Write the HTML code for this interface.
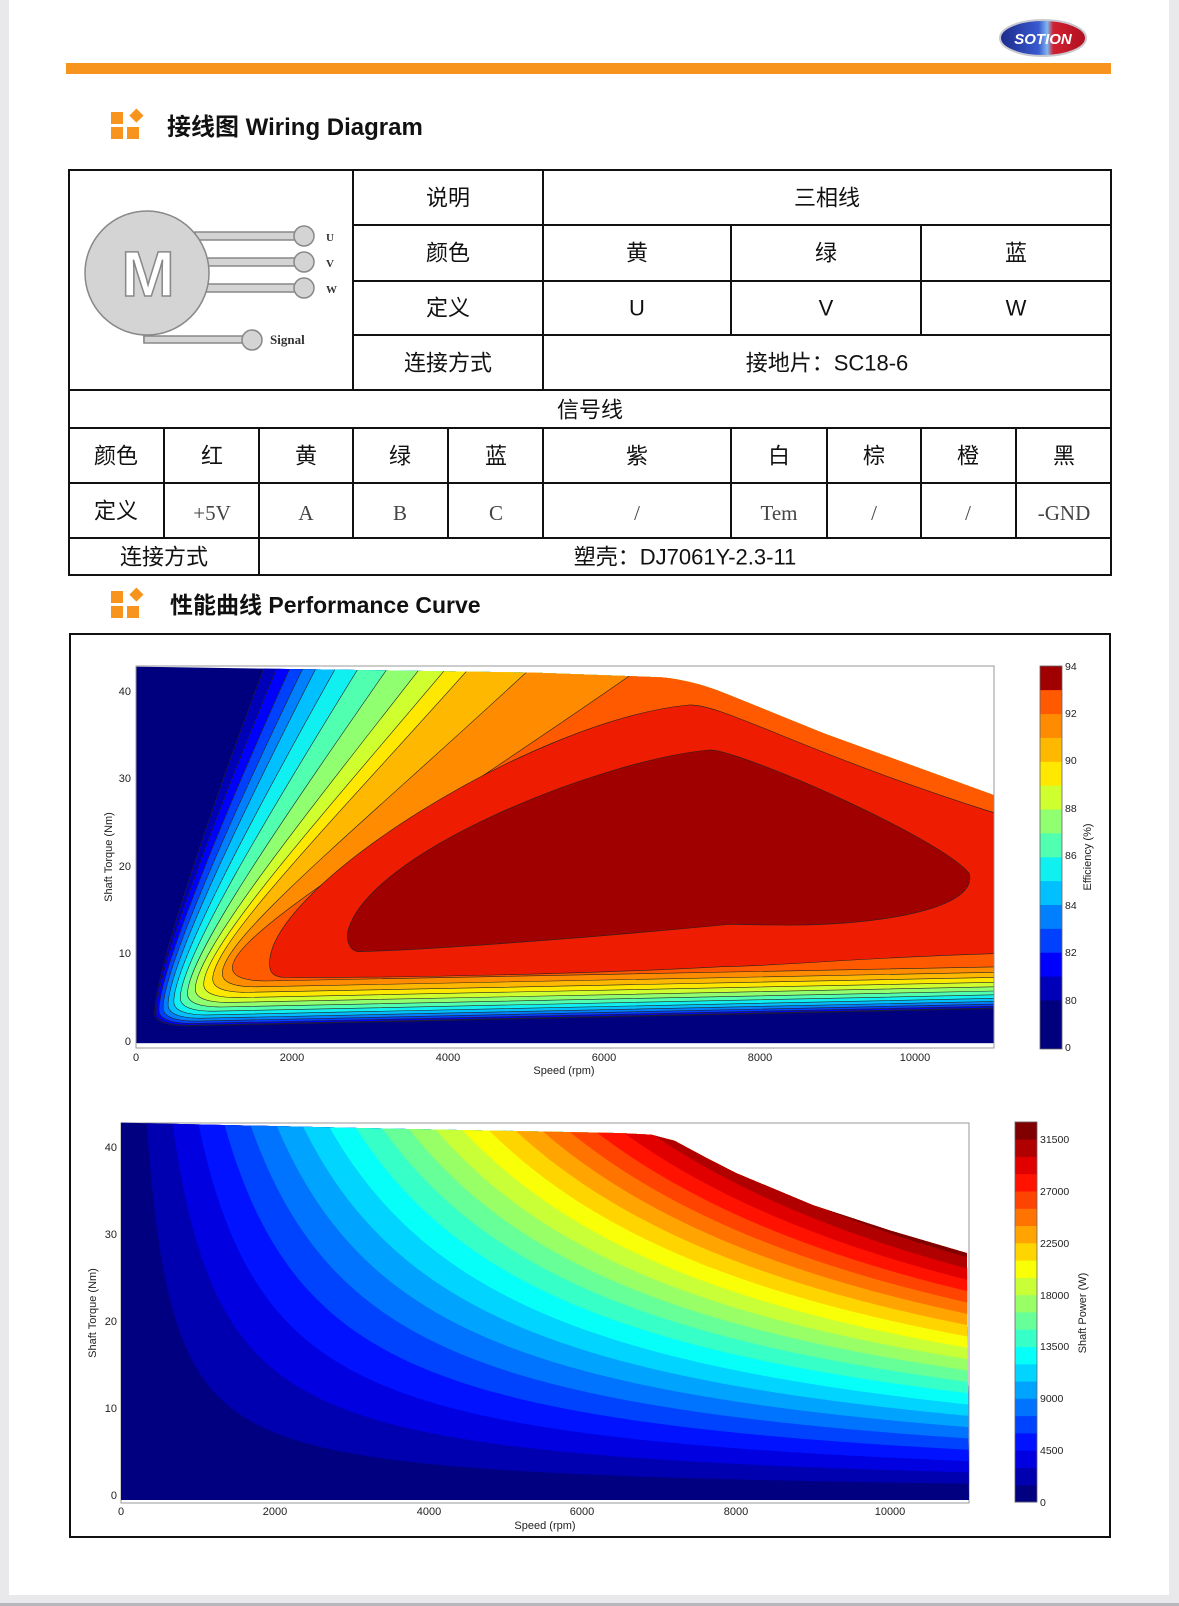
<!DOCTYPE html>
<html><head><meta charset="utf-8">
<style>
html,body{margin:0;padding:0;background:#e9e9ec;}
body{width:1179px;height:1606px;overflow:hidden;position:relative;}
svg{position:absolute;left:0;top:0;}
text{font-family:"Liberation Sans","Noto Sans CJK SC",sans-serif;}
</style></head>
<body>
<svg id="pg" width="1179" height="1606" viewBox="0 0 1179 1606" xmlns="http://www.w3.org/2000/svg">
<defs>
<linearGradient id="lg" x1="0" x2="1" y1="0" y2="0">
<stop offset="0" stop-color="#1a2a8a"/><stop offset="0.45" stop-color="#3a5ad0"/><stop offset="0.55" stop-color="#7fb8f0"/><stop offset="0.62" stop-color="#d02030"/><stop offset="1" stop-color="#b01020"/>
</linearGradient>
<clipPath id="env1"><path d="M113,140 L700,158 L890,172 C930,180 960,200 990,225 L1130,340 L1381,525 L1381,1270 L113,1270 Z"/></clipPath>
<clipPath id="env2"><path id="env2p" d=""/></clipPath>
</defs>
<rect x="9" y="0" width="1160" height="1595" fill="#ffffff"/>
<rect x="0" y="1603" width="1179" height="3" fill="#b8b8bc"/>
<ellipse cx="1043" cy="38" rx="43" ry="18" fill="url(#lg)" stroke="#c8c8d0" stroke-width="2"/>
<text x="1043" y="44" font-size="15" font-weight="bold" font-style="italic" fill="#fff" text-anchor="middle">SOTION</text>
<rect x="66" y="63" width="1045" height="11" fill="#f7941d"/>
<g fill="#f7941d">
<rect x="111" y="112" width="12" height="12"/><rect x="130" y="110" width="10" height="10" transform="rotate(45 135 117)"/>
<rect x="111" y="127" width="12" height="12"/><rect x="127" y="127" width="12" height="12"/>
</g>
<text x="167" y="135" font-size="24" font-weight="bold" fill="#111">接线图 Wiring Diagram</text>
<g stroke="#111" stroke-width="2" fill="none">
<rect x="69" y="170" width="1042" height="405"/>
<line x1="353" y1="170" x2="353" y2="390"/>
<line x1="543" y1="170" x2="543" y2="390"/>
<line x1="353" y1="225" x2="1111" y2="225"/>
<line x1="353" y1="281" x2="1111" y2="281"/>
<line x1="353" y1="335" x2="1111" y2="335"/>
<line x1="731" y1="225" x2="731" y2="335"/>
<line x1="921" y1="225" x2="921" y2="335"/>
<line x1="69" y1="390" x2="1111" y2="390"/>
<line x1="69" y1="428" x2="1111" y2="428"/>
<line x1="69" y1="483" x2="1111" y2="483"/>
<line x1="69" y1="538" x2="1111" y2="538"/>
<line x1="164" y1="428" x2="164" y2="538"/>
<line x1="259" y1="428" x2="259" y2="575"/>
<line x1="353" y1="428" x2="353" y2="538"/>
<line x1="448" y1="428" x2="448" y2="538"/>
<line x1="543" y1="428" x2="543" y2="538"/>
<line x1="731" y1="428" x2="731" y2="538"/>
<line x1="827" y1="428" x2="827" y2="538"/>
<line x1="921" y1="428" x2="921" y2="538"/>
<line x1="1016" y1="428" x2="1016" y2="538"/>
</g>
<g stroke="#888" stroke-width="1.5" fill="#d4d4d4">
<rect x="195" y="232" width="110" height="8"/>
<rect x="205" y="258" width="100" height="8"/>
<rect x="205" y="284" width="100" height="8"/>
<rect x="144" y="320" width="8" height="22"/>
<rect x="144" y="336" width="108" height="7"/>
<circle cx="147" cy="273" r="62"/>
<circle cx="304" cy="236" r="10"/>
<circle cx="304" cy="262" r="10"/>
<circle cx="304" cy="288" r="10"/>
<circle cx="252" cy="340" r="10"/>
</g>
<text x="148" y="296" font-size="64" font-weight="bold" fill="#fff" stroke="#888" stroke-width="1.5" text-anchor="middle">M</text>
<g font-size="11" font-weight="bold" fill="#333">
<text x="326" y="241" style="font-family:'Liberation Serif',serif">U</text>
<text x="326" y="267" style="font-family:'Liberation Serif',serif">V</text>
<text x="326" y="293" style="font-family:'Liberation Serif',serif">W</text>
<text x="270" y="344" font-size="13" style="font-family:'Liberation Serif',serif">Signal</text>
</g>
<g font-size="22" fill="#111" text-anchor="middle" dominant-baseline="central">
<text x="448" y="198">说明</text>
<text x="827" y="198">三相线</text>
<text x="448" y="253">颜色</text>
<text x="637" y="253">黄</text>
<text x="826" y="253">绿</text>
<text x="1016" y="253">蓝</text>
<text x="448" y="308">定义</text>
<text x="637" y="308">U</text>
<text x="826" y="308">V</text>
<text x="1016" y="308">W</text>
<text x="448" y="363">连接方式</text>
<text x="827" y="363">接地片：SC18-6</text>
<text x="590" y="410">信号线</text>
<text x="116" y="456">颜色</text>
<text x="212" y="456">红</text>
<text x="306" y="456">黄</text>
<text x="400" y="456">绿</text>
<text x="496" y="456">蓝</text>
<text x="637" y="456">紫</text>
<text x="779" y="456">白</text>
<text x="874" y="456">棕</text>
<text x="968" y="456">橙</text>
<text x="1064" y="456">黑</text>
<text x="116" y="511">定义</text>
<text x="164" y="557">连接方式</text>
<text x="685" y="557">塑壳：DJ7061Y-2.3-11</text>
</g>
<g font-size="21" fill="#444" text-anchor="middle" dominant-baseline="central">
<text x="212" y="513" style="font-family:'Liberation Serif',serif">+5V</text>
<text x="306" y="513" style="font-family:'Liberation Serif',serif">A</text>
<text x="400" y="513" style="font-family:'Liberation Serif',serif">B</text>
<text x="496" y="513" style="font-family:'Liberation Serif',serif">C</text>
<text x="637" y="513" style="font-family:'Liberation Serif',serif">/</text>
<text x="779" y="513" style="font-family:'Liberation Serif',serif">Tem</text>
<text x="874" y="513" style="font-family:'Liberation Serif',serif">/</text>
<text x="968" y="513" style="font-family:'Liberation Serif',serif">/</text>
<text x="1064" y="513" style="font-family:'Liberation Serif',serif">-GND</text>
</g>
<g fill="#f7941d">
<rect x="111" y="591" width="12" height="12"/><rect x="130" y="589" width="10" height="10" transform="rotate(45 135 596)"/>
<rect x="111" y="606" width="12" height="12"/><rect x="127" y="606" width="12" height="12"/>
</g>
<text x="170" y="613" font-size="23" font-weight="bold" fill="#111">性能曲线 Performance Curve</text>
<rect x="70" y="634" width="1040" height="903" fill="#fff" stroke="#111" stroke-width="2"/>

<rect x="136" y="666" width="858" height="382" fill="#fff" stroke="#999" stroke-width="1"/>
<g id="c1" transform="translate(60,620) scale(0.67602,0.33333)"></g>
<g id="c2"></g>
<g id="cb"></g>
<g font-size="11" fill="#222">
<g text-anchor="end">
<text x="131" y="1045">0</text><text x="131" y="957">10</text><text x="131" y="870">20</text><text x="131" y="782">30</text><text x="131" y="695">40</text>
</g>
<g text-anchor="middle">
<text x="136" y="1061">0</text><text x="292" y="1061">2000</text><text x="448" y="1061">4000</text><text x="604" y="1061">6000</text><text x="760" y="1061">8000</text><text x="915" y="1061">10000</text>
<text x="564" y="1074">Speed  (rpm)</text>
</g>
<text transform="translate(112,857) rotate(-90)" text-anchor="middle">Shaft Torque  (Nm)</text>
<text transform="translate(1091,857) rotate(-90)" text-anchor="middle">Efficiency (%)</text>
<g font-size="10.5">
<text x="1065" y="670">94</text><text x="1065" y="717">92</text><text x="1065" y="764">90</text><text x="1065" y="812">88</text><text x="1065" y="859">86</text><text x="1065" y="909">84</text><text x="1065" y="956">82</text><text x="1065" y="1004">80</text><text x="1065" y="1051">0</text>
</g>
<g text-anchor="end">
<text x="117" y="1499">0</text><text x="117" y="1412">10</text><text x="117" y="1325">20</text><text x="117" y="1238">30</text><text x="117" y="1151">40</text>
</g>
<g text-anchor="middle">
<text x="121" y="1515">0</text><text x="275" y="1515">2000</text><text x="429" y="1515">4000</text><text x="582" y="1515">6000</text><text x="736" y="1515">8000</text><text x="890" y="1515">10000</text>
<text x="545" y="1529">Speed  (rpm)</text>
</g>
<text transform="translate(96,1313) rotate(-90)" text-anchor="middle">Shaft Torque  (Nm)</text>
<text transform="translate(1086,1313) rotate(-90)" text-anchor="middle">Shaft Power (W)</text>
<g font-size="10.5">
<text x="1040" y="1143">31500</text><text x="1040" y="1195">27000</text><text x="1040" y="1247">22500</text><text x="1040" y="1299">18000</text><text x="1040" y="1350">13500</text><text x="1040" y="1402">9000</text><text x="1040" y="1454">4500</text><text x="1040" y="1506">0</text>
</g>
</g>
</svg>
<script>
(function(){
var NS="http://www.w3.org/2000/svg";
function el(p,tag,a){var e=document.createElementNS(NS,tag);for(var k in a)e.setAttribute(k,a[k]);p.appendChild(e);return e;}
function cl(v){return Math.max(0,Math.min(1,v));}
function jet(t){var r=cl(1.5-Math.abs(4*t-3)),g=cl(1.5-Math.abs(4*t-2)),b=cl(1.5-Math.abs(4*t-1));
 return "rgb("+Math.round(r*255)+","+Math.round(g*255)+","+Math.round(b*255)+")";}
var c1=document.getElementById("c1");
var g1=el(c1,"g",{"clip-path":"url(#env1)"});
el(g1,"rect",{x:113,y:100,width:1268,height:1170,fill:"#00007f"});
var cols=["#0000b8","#0000ff","#0040ff","#0080ff","#00c0ff","#10f0f0","#50ffb0","#90ff70","#d0ff30","#ffe800","#ffb800","#ff8c00","#ff5a00"];
var tops=[310,330,350,370,390,420,455,500,550,590,625,720,890];
var st={"stroke":"#222","stroke-width":"0.6","vector-effect":"non-scaling-stroke"};
for(var i=0;i<13;i++){
 var f=i/12, e=Math.pow(f,1.6);
 var cx=140+115*e, cy=1218-135*e, ry=1165-125*e, tx=tops[i];
 var d="M"+tx+",100 C"+(tx+(cx-tx)*0.55)+",600 "+cx+","+(cy-150)+" "+cx+","+(cy-40)+" Q"+cx+","+cy+" "+(cx+50)+","+cy+" L1400,"+ry+" L1400,0 L"+tx+",0 Z";
 var a={d:d,fill:cols[i]};for(var k in st)a[k]=st[k];
 el(g1,"path",a);
}
var a93={d:"M310,1030 C310,800 700,300 930,255 C980,250 1100,400 1400,590 L1400,1000 C1200,1010 1050,1040 980,1040 C800,1060 500,1075 330,1072 C312,1070 310,1050 310,1030 Z",fill:"#ee1c00"};
for(var k in st)a93[k]=st[k]; el(g1,"path",a93);
var a94={d:"M425,940 C450,700 800,420 960,390 C1000,385 1300,650 1345,760 C1360,870 1200,920 1060,915 C1000,915 990,910 980,915 C800,950 550,990 440,995 C428,990 424,960 425,940 Z",fill:"#a00000"};
for(var k in st)a94[k]=st[k]; el(g1,"path",a94);
var cb=document.getElementById("cb");
el(cb,"rect",{x:1040,y:1000,width:22,height:49,fill:"#00007f"});
var cb1=["#0000b8","#0000ff","#0040ff","#0080ff","#00c0ff","#10f0f0","#50ffb0","#90ff70","#d0ff30","#ffe800","#ffb800","#ff8c00","#ff5a00","#ee1c00"];
for(var j=0;j<14;j++){el(cb,"rect",{x:1040,y:1000-(j+1)*23.86,width:22,height:24.3,fill:cb1[j]});}
el(cb,"rect",{x:1040,y:666,width:22,height:24,fill:"#a00000"});
el(cb,"rect",{x:1040,y:666,width:22,height:383,fill:"none",stroke:"#666","stroke-width":"0.8"});
function X(s){return 121+s*0.0769;} function Y(t){return 1495-t*8.7;}
var env=[[0,42.8],[3000,42.2],[6500,41.6],[6900,41.4],[7200,40.7],[7600,38.8],[8000,37],[9000,33.3],[10000,30.4],[11000,27.8]];
var ed="M"+X(0)+","+Y(env[0][1]);
for(var i=1;i<env.length;i++)ed+=" L"+X(env[i][0]).toFixed(1)+","+Y(env[i][1]).toFixed(1);
ed+=" L969,1500 L121,1500 Z";
document.getElementById("env2p").setAttribute("d",ed);
var c2=document.getElementById("c2");
el(c2,"rect",{x:121,y:1123,width:848,height:380,fill:"#fff",stroke:"#999","stroke-width":"1"});
var g2=el(c2,"g",{"clip-path":"url(#env2)"});
el(g2,"rect",{x:121,y:1100,width:850,height:400,fill:jet(0)});
for(var k=1;k<22;k++){
 var L=1500*k, s0=L*30/(Math.PI*44);
 var d="M"+X(s0).toFixed(1)+","+Y(44);
 for(var s=s0;s<=11300;s+=(s<2000?10:50)){var T=L*30/(Math.PI*s);d+=" L"+X(s).toFixed(1)+","+Y(T).toFixed(1);}
 d+=" L"+X(11300)+","+Y(44)+" Z";
 el(g2,"path",{d:d,fill:jet(k/21)});
}
for(var k=0;k<22;k++){el(cb,"rect",{x:1015,y:(1502-(k+1)*17.28).toFixed(1),width:22,height:17.8,fill:jet(k/21)});}
el(cb,"rect",{x:1015,y:1122,width:22,height:380,fill:"none",stroke:"#666","stroke-width":"0.8"});
})();
</script>
</body></html>
